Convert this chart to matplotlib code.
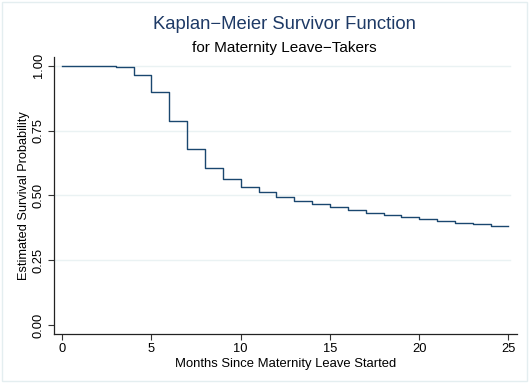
import matplotlib
matplotlib.use("Agg")
import matplotlib.pyplot as plt
from matplotlib.patches import Rectangle

# Kaplan-Meier step estimates, one value per month interval [k, k+1)
months = list(range(0, 26))
survival = [1.000, 0.999, 0.998, 0.994, 0.963, 0.901, 0.788, 0.678, 0.604,
            0.564, 0.533, 0.512, 0.494, 0.479, 0.465, 0.454, 0.443, 0.433,
            0.425, 0.417, 0.409, 0.401, 0.395, 0.390, 0.383, 0.383]
x_ticks = [0, 5, 10, 15, 20, 25]
y_ticks = [0.0, 0.25, 0.50, 0.75, 1.0]
y_tick_labels = ["0.00", "0.25", "0.50", "0.75", "1.00"]

plt.rcParams["font.family"] = ["Liberation Sans", "DejaVu Sans"]

fig = plt.figure(figsize=(5.29, 3.83), dpi=100)
fig.patch.set_facecolor("white")
fig.patches.append(Rectangle((0.004, 0.004), 0.992, 0.992, transform=fig.transFigure,
                             fill=False, edgecolor="#e4eef0", lw=1.0))

ax = fig.add_axes([0.102, 0.128, 0.875, 0.723])

for y in y_ticks[1:]:
    ax.axhline(y, color="#eaf2f3", lw=1.0, zorder=0, xmax=0.985)

ax.step(months, survival, where="post", color="#1a476f", lw=1.0)

ax.set_xlim(-0.465, 25.47)
ax.set_ylim(-0.035, 1.034)
ax.set_xticks(x_ticks)
ax.set_yticks(y_ticks)
ax.set_yticklabels(y_tick_labels, rotation=90, va="center")
ax.tick_params(axis="both", length=4.5, width=0.8, color="#333333",
               labelsize=9.3, pad=2)

for side in ["top", "right"]:
    ax.spines[side].set_visible(False)
for side in ["left", "bottom"]:
    ax.spines[side].set_linewidth(0.9)
    ax.spines[side].set_color("#222222")

ax.set_xlabel("Months Since Maternity Leave Started", fontsize=9.4, labelpad=2)
ax.set_ylabel("Estimated Survival Probability", fontsize=9.2, labelpad=2)

fig.text(0.537, 0.937, "Kaplan\u2212Meier Survivor Function", ha="center",
         va="center", fontsize=13.3, color="#1e3a66")
fig.text(0.537, 0.875, "for Maternity Leave\u2212Takers", ha="center",
         va="center", fontsize=11, color="black")

fig.savefig("out.png", dpi=100)
